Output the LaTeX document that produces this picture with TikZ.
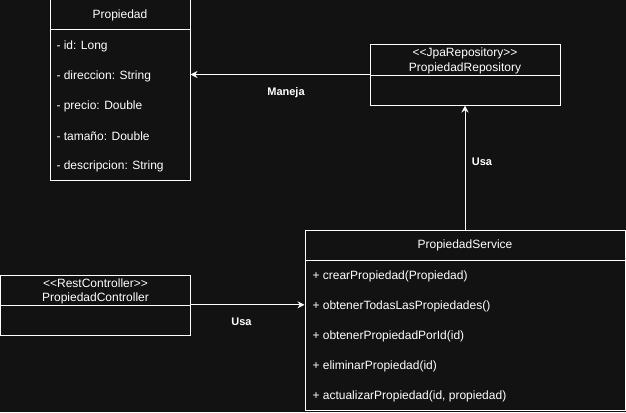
\documentclass[tikz,border=0pt]{standalone}
\usepackage{fontspec}
\setmainfont{Liberation Sans}
\usepackage{xcolor}
\usepackage{tikz}
\usetikzlibrary{arrows.meta}
\usetikzlibrary{calc}
\usetikzlibrary{positioning}
\definecolor{bgdark}{HTML}{121212}

\begin{document}
\begin{tikzpicture}[x=1pt,y=-1pt,line width=1pt,draw=white,text=white,
  font=\fontsize{12}{14}\selectfont]
 				 \tikzstyle{box}=[draw, rectangle, inner sep=0pt, align=center]
 				 \tikzstyle{row}=[anchor=west, inner sep=0pt]
 				 \tikzstyle{lbl}=[font=\fontsize{11}{13}\selectfont\bfseries, inner sep=0pt]
 				 \tikzstyle{uses}=[-{Stealth[length=7pt,width=7pt]}]
						\fill[bgdark] (0,0) rectangle (626,412);
						\useasboundingbox (0,0) rectangle (626,412);
						% Propiedad
						\node[box, minimum width=140pt, minimum height=30pt] (prop) at (120,15) {Propiedad};
						\node[box, minimum width=140pt, minimum height=150pt] (propbody) at (120,105) {};
						\node[row] (id) at (56,46) {- id: Long};
						\node[row] (dir) at (56,76) {- direccion: String};
						\node[row] (precio) at (56,106) {- precio: Double};
						\node[row] (tam) at (56,136) {- tamaño: Double};
						\node[row] (desc) at (56,166) {- descripcion: String};
						% PropiedadRepository
						\node[box, minimum width=190pt, minimum height=30pt] (repo) at (465,60) {};
						\node[inner sep=0pt] (repost) at (465,53.5) {{<}{<}JpaRepository{>}{>}};
						\node[inner sep=0pt] (reponame) at (465,68.5) {PropiedadRepository};
						\node[box, minimum width=190pt, minimum height=30pt] (repobody) at (465,90) {};
						% PropiedadService
						\node[box, minimum width=320pt, minimum height=30pt] (serv) at (465,245) {PropiedadService};
						\node[box, minimum width=320pt, minimum height=150pt] (servbody) at (465,335) {};
						\node[row] (m1) at (312,276) {+ crearPropiedad(Propiedad)};
						\node[row] (m2) at (312,306) {+ obtenerTodasLasPropiedades()};
						\node[row] (m3) at (312,336) {+ obtenerPropiedadPorId(id)};
						\node[row] (m4) at (312,366) {+ eliminarPropiedad(id)};
						\node[row] (m5) at (312,396) {+ actualizarPropiedad(id, propiedad)};
						% PropiedadController
						\node[box, minimum width=190pt, minimum height=30pt] (ctrl) at (95.5,290.3) {};
						\node[inner sep=0pt] (ctrlst) at (95.5,283) {{<}{<}RestController{>}{>}};
						\node[inner sep=0pt] (ctrlname) at (95.5,298.5) {PropiedadController};
						\node[box, minimum width=190pt, minimum height=30pt] (ctrlbody) at (95.5,320.3) {};

						\draw[uses] (repobody.north west) -- (repobody.north west -| propbody.east);
						\draw[uses] (serv.north) -- (repobody.south);
						\draw[uses] (ctrlbody.north east) -- (ctrlbody.north east -| servbody.west);
						\node[lbl] (maneja) at (286,92.5) {Maneja};
						\node[lbl] (usa1) at (482,162) {Usa};
						\node[lbl] (usa2) at (241.5,322) {Usa};
 				\end{tikzpicture}
\end{document}
